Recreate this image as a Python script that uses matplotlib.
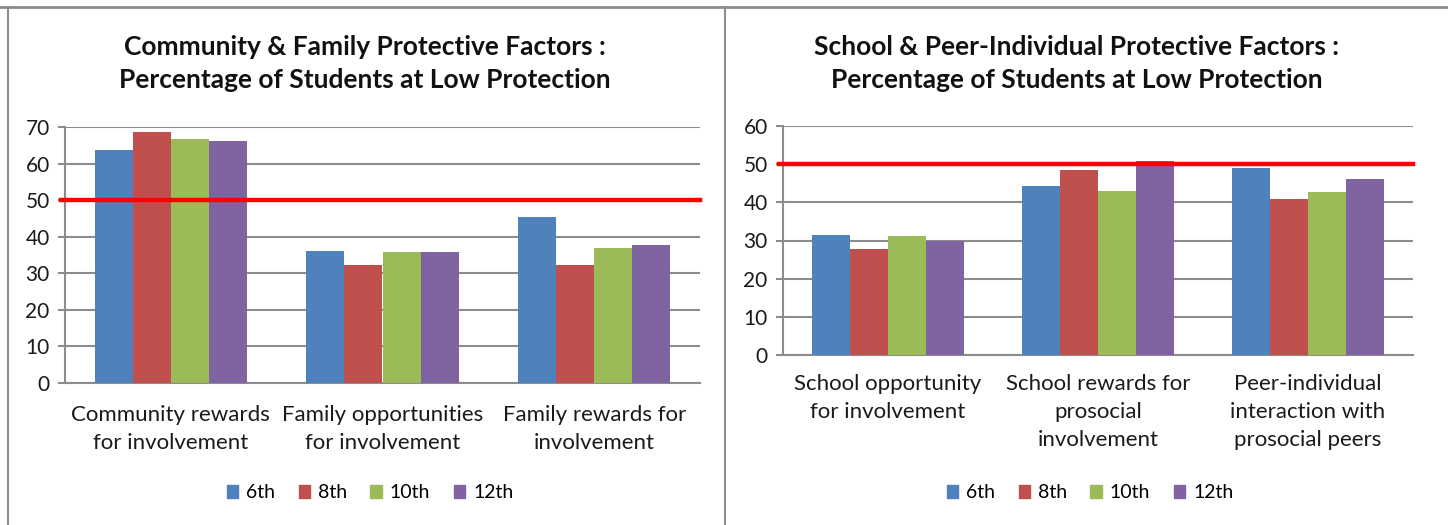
import matplotlib.pyplot as plt
from matplotlib.lines import Line2D
import numpy as np

plt.rcParams['font.family'] = ['Lato', 'DejaVu Sans']

grades = ['6th', '8th', '10th', '12th']
colors = ['#4F81BD', '#C0504D', '#9BBB59', '#8064A2']

left_cats = ['Community rewards\nfor involvement', 'Family opportunities\nfor involvement',
             'Family rewards for\ninvolvement']
left_vals = {
    '6th': [63.7, 36.0, 45.4],
    '8th': [68.6, 32.3, 32.3],
    '10th': [66.6, 35.7, 37.0],
    '12th': [66.1, 35.7, 37.6],
}

right_cats = ['School opportunity\nfor involvement', 'School rewards for\nprosocial\ninvolvement',
              'Peer-individual\ninteraction with\nprosocial peers']
right_vals = {
    '6th': [31.4, 44.3, 49.1],
    '8th': [27.9, 48.5, 41.0],
    '10th': [31.1, 43.1, 42.6],
    '12th': [30.0, 50.9, 46.1],
}

left_title = 'Community & Family Protective Factors :\nPercentage of Students at Low Protection'
right_title = 'School & Peer-Individual Protective Factors :\nPercentage of Students at Low Protection'

W, H = 1448, 525
fig = plt.figure(figsize=(W / 100, H / 100), dpi=100)

# panel borders
border = '#8c8c8c'
fig.add_artist(Line2D([0, 1], [1 - 7 / H, 1 - 7 / H], color=border, lw=2))
fig.add_artist(Line2D([8 / W, 8 / W], [0, 1 - 7 / H], color=border, lw=1.5))
fig.add_artist(Line2D([725 / W, 725 / W], [0, 1 - 7 / H], color=border, lw=1.5))


def draw(rect, cats, vals, ymax, title, title_x, legend_x, pad):
    ax = fig.add_axes(rect)
    x = np.arange(len(cats))
    bw = 0.18
    for i, g in enumerate(grades):
        ax.bar(x + (i - 1.5) * bw, vals[g], bw, color=colors[i], label=g, zorder=3)
    ax.set_xlim(-0.5, len(cats) - 0.5)
    ax.set_ylim(0, ymax)
    ax.set_yticks(range(0, ymax + 1, 10))
    ax.yaxis.grid(True, color='#8c8c8c', lw=1.5, zorder=0)
    ax.set_xticks(x)
    ax.set_xticklabels(cats, fontsize=16, linespacing=1.5, color='#1a1a1a', va='top')
    ax.tick_params(axis='x', length=0, pad=pad)
    ax.tick_params(axis='y', labelsize=15, labelcolor='#1a1a1a', color='#8c8c8c',
                   length=5, width=1.5, pad=6)
    for s in ['top', 'right']:
        ax.spines[s].set_visible(False)
    for s in ['left', 'bottom']:
        ax.spines[s].set_color('#8c8c8c')
        ax.spines[s].set_linewidth(1.5)
    ax.plot([-0.006, 1.0], [50, 50], color='#ff0000', lw=3.2, zorder=4,
            transform=ax.get_yaxis_transform(), clip_on=False)
    fig.text(title_x / W, 1 - 63.5 / H, title, ha='center', va='center', fontsize=19,
             fontweight='bold', linespacing=1.45, color='#111111')
    handles = [plt.Rectangle((0, 0), 1, 1, color=c) for c in colors]
    fig.legend(handles, grades, loc='center', bbox_to_anchor=(legend_x / W, 1 - 493 / H),
               ncol=4, frameon=False, fontsize=14, handlelength=0.6, handleheight=0.6,
               handletextpad=0.4, columnspacing=1.2)
    return ax


draw([65 / W, 1 - 383 / H, 635 / W, 256 / H], left_cats, left_vals, 70, left_title, 365, 370, 16)
draw([783 / W, 1 - 355 / H, 630 / W, 229 / H], right_cats, right_vals, 60, right_title, 1077, 1090, 14)

fig.savefig('out.png', dpi=100)
